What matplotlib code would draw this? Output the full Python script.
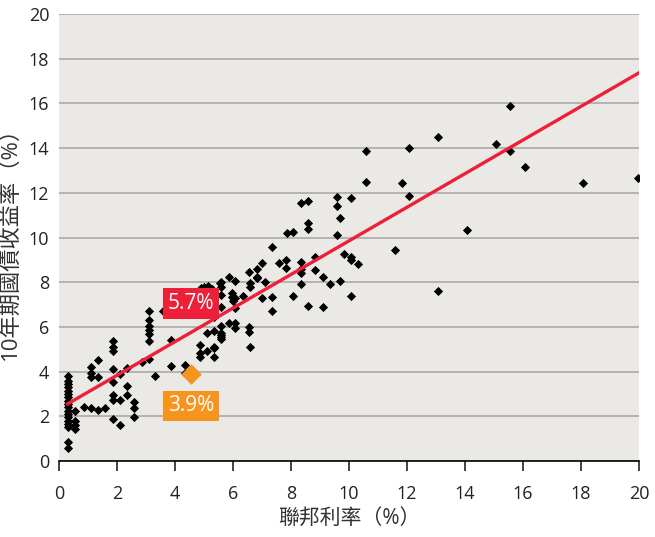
import numpy as np
import matplotlib
matplotlib.use('Agg')
import matplotlib.pyplot as plt

plt.rcParams['font.family'] = ['Open Sans', 'Noto Sans CJK TC', 'DejaVu Sans']

# fed funds rate (%) vs 10y treasury yield (%)
fed_rate = [
    0.3, 0.3, 0.3, 0.3, 0.3, 0.3, 0.3, 0.3, 0.3, 0.3, 0.3, 0.3, 0.3, 0.3, 0.3, 0.3, 0.3, 0.3,
    0.55, 0.55, 0.55, 0.55, 0.85,
    1.1, 1.1, 1.1, 1.1, 1.35, 1.35, 1.35, 1.6,
    1.85, 1.85, 1.85, 1.85, 1.85, 1.85, 1.85, 1.85,
    2.1, 2.1, 2.1, 2.35, 2.35, 2.35, 2.6, 2.6, 2.6, 2.85,
    3.1, 3.1, 3.1, 3.1, 3.1, 3.1, 3.1, 3.3, 3.6, 3.85, 3.85, 4.35, 4.35,
    4.85, 4.85, 4.85, 5.1, 5.1, 5.35, 5.35, 5.35, 5.35, 5.35, 5.6, 5.6, 5.6, 5.6, 5.6, 5.6,
    4.9, 5.0, 5.15, 5.27, 5.55, 5.6, 5.6, 5.85, 5.6, 5.95, 5.95, 6.0, 6.07, 6.33, 6.07,
    5.85, 6.07, 6.07, 6.07, 6.55, 6.55, 6.6, 6.55, 6.6, 6.6,
    6.82, 6.82, 6.82, 6.99, 6.99, 7.1, 7.33, 7.33, 7.33, 7.6, 7.83, 7.83, 7.85, 8.08, 8.08,
    8.33, 8.33, 8.33, 8.33, 8.33, 8.6, 8.6, 8.6, 8.6, 8.83, 8.83, 9.09, 9.09, 9.34,
    9.58, 9.58, 9.58, 9.69, 9.69, 9.83, 10.07, 10.07, 10.07, 10.07, 10.32,
    10.59, 10.59, 11.59, 11.82, 12.08, 12.08, 13.08, 13.08, 14.06,
    15.06, 15.55, 15.55, 16.07, 18.06, 19.95,
]
treasury_yield = [
    3.8, 3.6, 3.45, 3.3, 3.15, 3.0, 2.85, 2.7, 2.55, 2.4, 2.25, 2.1, 1.95, 1.8, 1.65, 1.5, 0.85, 0.6,
    2.25, 1.8, 1.6, 1.45, 2.4,
    2.35, 4.2, 3.95, 3.75, 2.3, 4.5, 3.75, 2.35,
    5.35, 5.1, 4.9, 4.1, 3.55, 2.95, 2.75, 1.9,
    3.9, 2.75, 1.6, 4.15, 3.35, 2.95, 2.65, 2.35, 1.95, 4.45,
    6.7, 6.3, 6.05, 5.85, 5.7, 5.35, 4.55, 3.8, 6.7, 5.4, 4.25, 4.3, 3.95,
    5.2, 4.85, 4.65, 4.9, 5.75, 5.05, 4.67, 5.8, 6.46, 5.1, 5.45, 5.65, 6.05, 6.9, 5.56, 5.75,
    7.73, 7.8, 7.85, 7.7, 7.95, 8.02, 7.8, 8.25, 7.45, 7.35, 7.52, 7.15, 7.3, 7.38, 8.05,
    6.16, 6.19, 5.94, 6.83, 6.0, 5.76, 5.1, 8.47, 7.95, 7.8,
    8.57, 8.25, 8.2, 8.85, 7.28, 8.02, 9.59, 7.32, 6.7, 8.87, 8.99, 8.62, 10.19, 10.26, 7.38,
    11.53, 8.92, 8.58, 8.4, 7.92, 11.63, 10.63, 10.37, 6.94, 9.11, 8.55, 8.25, 6.9, 7.92,
    11.83, 11.41, 10.11, 10.89, 8.05, 9.26, 11.78, 9.11, 8.99, 7.38, 8.81,
    13.87, 12.47, 9.44, 12.42, 13.99, 11.86, 14.48, 7.61, 10.34,
    14.2, 15.88, 13.87, 13.14, 12.42, 12.65,
]

# highlighted current point and the regression estimate at that rate
now_rate = 4.55
now_yield = 3.9
fit_yield = 5.7
fit_intercept = 2.33
fit_slope = 0.752

fig = plt.figure(figsize=(6.55, 5.37), dpi=100)
ax = fig.add_axes([0.090, 0.1415, 0.8856, 0.8324])
ax.set_facecolor('#EAE9E5')

ax.scatter(fed_rate, treasury_yield, marker='D', s=22, color='black', zorder=3, linewidths=0)

xs = np.array([0.3, 20])
ax.plot(xs, fit_intercept + fit_slope * xs, color='#EE1F38', lw=2.4, zorder=4)

ax.scatter([now_rate], [now_yield], marker='D', s=110, color='#F7941D', zorder=5, linewidths=0)

ax.text(now_rate, 7.05, f'{fit_yield}%', color='white', fontsize=15, ha='center', va='center',
        bbox=dict(boxstyle='square,pad=0.22', fc='#EE1F38', ec='none'), zorder=6)
ax.text(now_rate, 2.48, f'{now_yield}%', color='white', fontsize=15, ha='center', va='center',
        bbox=dict(boxstyle='square,pad=0.22', fc='#F7941D', ec='none'), zorder=6)

ax.set_xlim(0, 20)
ax.set_ylim(0, 20)
ax.set_xticks(range(0, 21, 2))
ax.set_yticks(range(0, 21, 2))
ax.yaxis.grid(True, color='#A5A5A5', lw=1.1)
ax.set_axisbelow(True)

for side in ['left', 'right', 'top']:
    ax.spines[side].set_visible(False)
ax.spines['bottom'].set_color('black')
ax.spines['bottom'].set_linewidth(1.2)
ax.tick_params(axis='x', direction='out', length=7, width=1.2, pad=10, labelsize=13, colors='#222222')
ax.tick_params(axis='y', length=0, pad=7, labelsize=13, colors='#222222')

ax.set_xlabel('聯邦利率（%）', fontsize=15, color='#333333', labelpad=4)
ax.set_ylabel('10年期國債收益率（%）', fontsize=16, color='#333333', labelpad=6)

fig.savefig('out.png', dpi=100, facecolor='white')
